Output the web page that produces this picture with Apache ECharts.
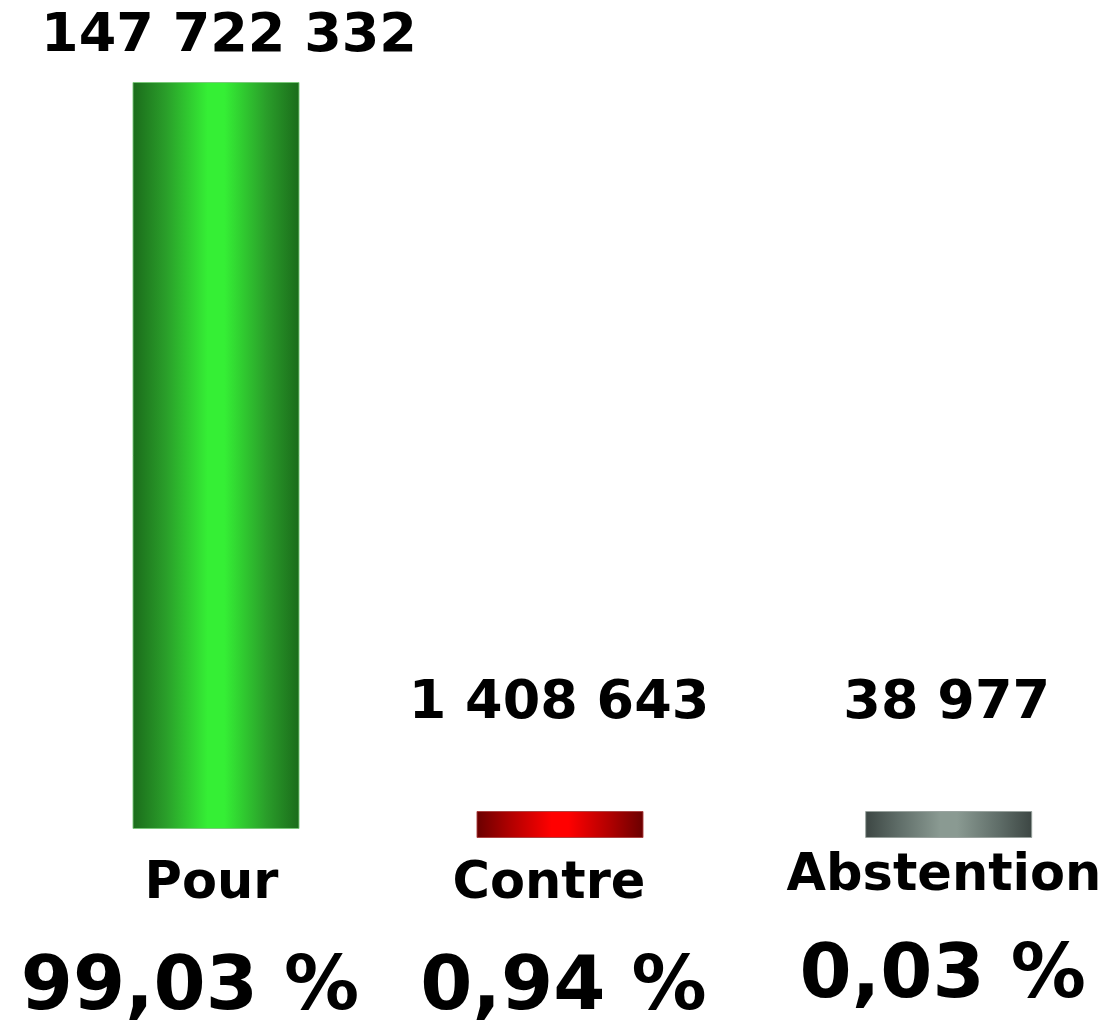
<!DOCTYPE html>
<html>
<head>
<meta charset="utf-8">
<script src="https://cdn.jsdelivr.net/npm/echarts@6/dist/echarts.min.js"></script>
<style>
html,body{margin:0;padding:0;background:#fff;}
#chart{width:1110px;height:1023px;}
</style>
</head>
<body>
<div id="chart"></div>
<script>
// ---- data ----
const categories = ['Pour', 'Contre', 'Abstention'];
const votes = [147722332, 1408643, 38977];
const percents = [99.03, 0.94, 0.03];

// ---- styling / layout (not data) ----
const FONT = 'DejaVu Sans';
const PLOT_H = 747;
const layout = [
  {center: 216,   axisY: 829, labelDist: 17.7, labelDx: 13, nameDx: -4.5, pctDx: -26, margin: 25.4, l1: 60, l2: 150},
  {center: 560,   axisY: 838, labelDist: 79.7, labelDx: -1, nameDx: -11,  pctDx: 3.5, margin: 16.4, l1: 60, l2: 150},
  {center: 948.7, axisY: 838, labelDist: 79.7, labelDx: -2, nameDx: -4.7, pctDx: -6,  margin: 8.4,  l1: 60, l2: 142}
];
const gradients = [
  ['#1b6b1b', '#2a9e2a', '#35ef35', '#35ef35', '#2a9e2a', '#1b6b1b'],
  ['#6a0000', '#b00000', '#ff0000', '#ff0000', '#b00000', '#6a0000'],
  ['#3c4643', '#5f6d68', '#8a9a92', '#8a9a92', '#5f6d68', '#3c4643']
];
const borders = ['rgba(120,200,120,0.9)', 'rgba(170,60,60,0.9)', 'rgba(150,160,155,0.9)'];

function fmtNum(v) { return String(v).replace(/\B(?=(\d{3})+(?!\d))/g, ' '); }
function fmtPct(p) { return p.toFixed(2).replace('.', ',') + ' %'; }
function shiftPad(dx) { return dx >= 0 ? [0, 0, 0, 2 * dx] : [0, -2 * dx, 0, 0]; }

const H = 1023;
const maxV = Math.max.apply(null, votes);

const grid = [], xAxis = [], yAxis = [], series = [];
categories.forEach((cat, i) => {
  const L = layout[i];
  grid.push({
    left: L.center - 100, width: 200,
    top: L.axisY - PLOT_H, bottom: H - L.axisY,
    outerBoundsMode: 'none', containLabel: false
  });
  xAxis.push({
    type: 'category', gridIndex: i, data: [cat],
    axisLine: {show: false}, axisTick: {show: false}, splitLine: {show: false},
    axisLabel: {
      interval: 0, margin: L.margin,
      formatter: (v) => '{n|' + v + '}\n{p|' + fmtPct(percents[i]) + '}',
      rich: {
        n: {fontFamily: FONT, fontWeight: 'bold', fontSize: 51, color: '#000', lineHeight: L.l1, padding: shiftPad(L.nameDx)},
        p: {fontFamily: FONT, fontWeight: 'bold', fontSize: 75, color: '#000', lineHeight: L.l2, padding: shiftPad(L.pctDx)}
      }
    }
  });
  yAxis.push({
    type: 'value', gridIndex: i, min: 0, max: maxV, show: false,
    splitLine: {show: false}
  });
  const g = gradients[i];
  series.push({
    type: 'bar', xAxisIndex: i, yAxisIndex: i,
    barWidth: 167, barMinHeight: 27,
    itemStyle: {
      color: new echarts.graphic.LinearGradient(0, 0, 1, 0, [
        {offset: 0, color: g[0]}, {offset: 0.2, color: g[1]}, {offset: 0.45, color: g[2]},
        {offset: 0.55, color: g[3]}, {offset: 0.8, color: g[4]}, {offset: 1, color: g[5]}
      ]),
      borderColor: borders[i], borderWidth: 1
    },
    label: {
      show: true, position: 'top', distance: L.labelDist, offset: [L.labelDx, 0],
      fontFamily: FONT, fontWeight: 'bold', fontSize: 54, color: '#000',
      formatter: (p) => fmtNum(p.value)
    },
    emphasis: {disabled: true},
    data: [votes[i]]
  });
});

const chart = echarts.init(document.getElementById('chart'), null, {renderer: 'canvas'});
chart.setOption({
  animation: false,
  backgroundColor: '#ffffff',
  grid: grid, xAxis: xAxis, yAxis: yAxis, series: series
});
</script>
</body>
</html>
